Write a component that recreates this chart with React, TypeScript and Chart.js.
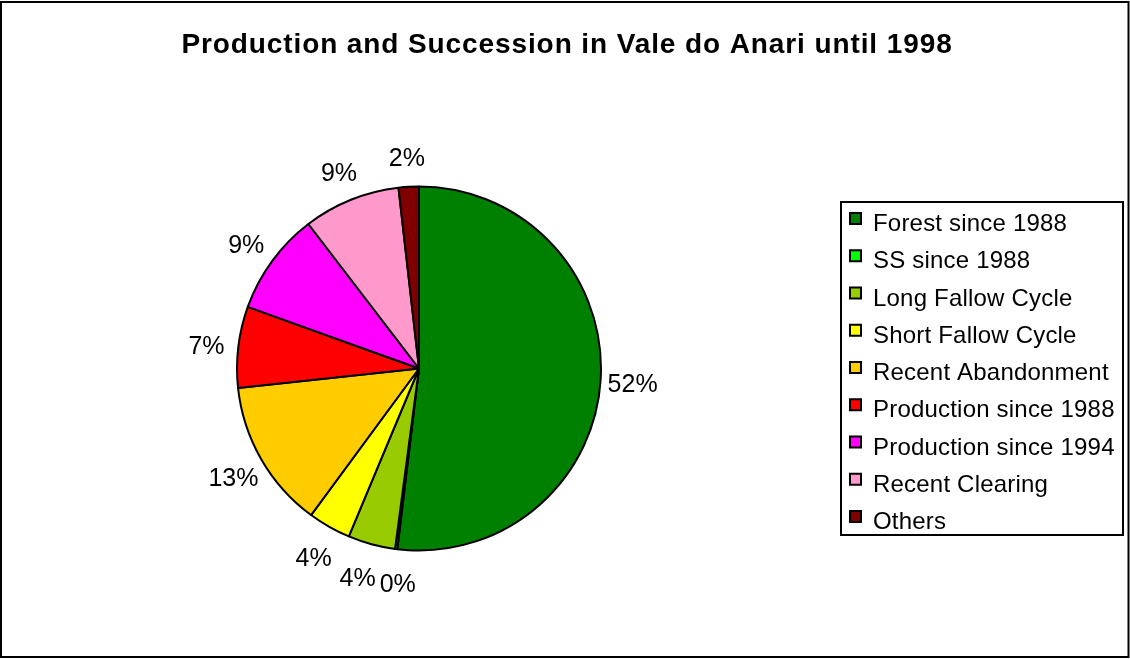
import React, { useEffect, useRef } from 'react';
import { Chart, registerables } from 'chart.js';

Chart.register(...registerables);

const TITLE = 'Production and Succession in Vale do Anari until 1998';
const categories = [
  'Forest since 1988',
  'SS since 1988',
  'Long Fallow Cycle',
  'Short Fallow Cycle',
  'Recent Abandonment',
  'Production since 1988',
  'Production since 1994',
  'Recent Clearing',
  'Others',
];
const shares = [51.9, 0.2, 4.2, 3.8, 13.2, 7.2, 9.1, 8.6, 1.8];
const colors = ['#008000', '#00FF00', '#99CC00', '#FFFF00', '#FFCC00', '#FF0000', '#FF00FF', '#FF99CC', '#800000'];

const FONT = '"Liberation Sans", Arial, sans-serif';

const decor = {
  id: 'decor',
  beforeDraw(chart: any) {
    const ctx = chart.ctx;
    ctx.save();
    ctx.fillStyle = '#fff';
    ctx.fillRect(0, 0, chart.width, chart.height);
    ctx.restore();
  },
  afterDraw(chart: any) {
    const ctx = chart.ctx as CanvasRenderingContext2D;
    ctx.save();
    // outer frame
    ctx.strokeStyle = '#000';
    ctx.lineWidth = 2;
    ctx.strokeRect(1, 2, 1127.5, 655);

    // title
    ctx.fillStyle = '#000';
    ctx.font = `bold 28px ${FONT}`;
    (ctx as any).letterSpacing = '0.9px';
    ctx.textAlign = 'center';
    ctx.textBaseline = 'middle';
    ctx.fillText(TITLE, 567, 45);
    (ctx as any).letterSpacing = '0px';

    // data labels
    const meta = chart.getDatasetMeta(0);
    ctx.font = `25px ${FONT}`;
    const items = meta.data.map((arc: any, i: number) => {
      const p = arc.getProps(['x', 'y', 'startAngle', 'endAngle', 'outerRadius'], true);
      const mid = (p.startAngle + p.endAngle) / 2;
      const r = p.outerRadius + 32;
      const v = chart.data.datasets[0].data[i];
      const text = `${Math.round(v)}%`;
      return {
        text,
        x: p.x + Math.cos(mid) * r,
        y: p.y + Math.sin(mid) * r + 4,
        w: ctx.measureText(text).width,
        h: 20,
      };
    });
    // simple de-overlap of neighbouring labels
    for (let i = 0; i < items.length - 1; i++) {
      const a = items[i];
      const b = items[i + 1];
      const need = (a.w + b.w) / 2 + 4;
      const dx = b.x - a.x;
      if (Math.abs(b.y - a.y) < a.h && Math.abs(dx) < need) {
        const push = (need - Math.abs(dx)) / 2;
        const s = dx >= 0 ? 1 : -1;
        a.x -= s * push;
        b.x += s * push;
      }
    }
    items.forEach((it: any) => ctx.fillText(it.text, it.x, it.y));

    // legend
    ctx.lineWidth = 2;
    ctx.strokeRect(841, 202, 282, 333);
    ctx.textAlign = 'left';
    ctx.textBaseline = 'alphabetic';
    ctx.font = `24px ${FONT}`;
    (ctx as any).letterSpacing = '0.2px';
    const labels = chart.data.labels as string[];
    const bg = chart.data.datasets[0].backgroundColor as string[];
    labels.forEach((lab, i) => {
      const cy = 218.5 + i * 37.25;
      ctx.fillStyle = bg[i];
      ctx.fillRect(850, cy - 5.5, 11, 11);
      ctx.strokeStyle = '#000';
      ctx.lineWidth = 2;
      ctx.strokeRect(850, cy - 5.5, 11, 11);
      ctx.fillStyle = '#000';
      ctx.fillText(lab, 873, cy + 12.5);
    });
    (ctx as any).letterSpacing = '0px';
    ctx.restore();
  },
};

export default function App() {
  const ref = useRef<HTMLCanvasElement | null>(null);
  useEffect(() => {
    if (!ref.current) return;
    const chart = new Chart(ref.current, {
      type: 'pie',
      data: {
        labels: categories,
        datasets: [
          {
            data: shares,
            backgroundColor: colors,
            borderColor: '#000',
            borderWidth: 2,
          },
        ],
      },
      options: {
        responsive: false,
        animation: false,
        events: [],
        radius: 182,
        layout: { padding: { left: 200, right: 492, top: 150, bottom: 72 } },
        plugins: {
          legend: { display: false },
          title: { display: false },
          tooltip: { enabled: false },
        },
      } as any,
      plugins: [decor],
    });
    return () => chart.destroy();
  }, []);
  return (
    <div style={{ position: 'fixed', left: 0, top: 0, width: 1130, height: 659, background: '#fff' }}>
      <canvas ref={ref} width={1130} height={659} style={{ display: 'block' }} />
    </div>
  );
}
